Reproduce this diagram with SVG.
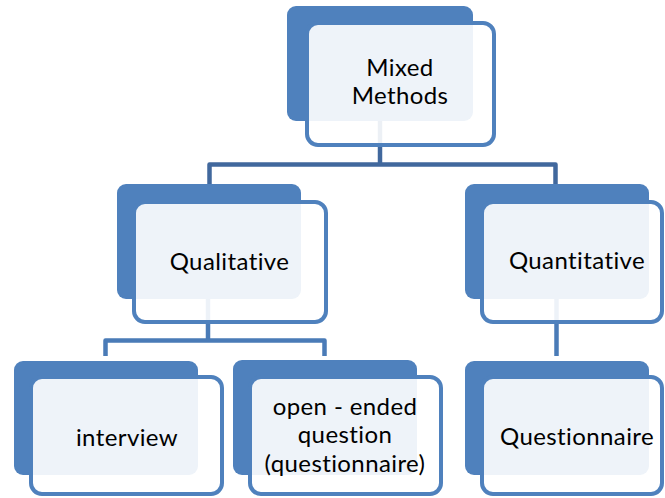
<svg xmlns="http://www.w3.org/2000/svg" width="665" height="498" viewBox="0 0 665 498">
  <style>
    .back { fill: #4F81BD; }
    .front { fill: #FFFFFF; fill-opacity: 0.9; stroke: #4F81BD; stroke-width: 4; }
    .lbl { font-family: Lato, "Open Sans", "Liberation Sans", sans-serif; font-size: 24px; letter-spacing: 0.4px; fill: #000000; text-anchor: middle; }
    .c1 { fill: none; stroke: #41689D; stroke-width: 4.5; stroke-linejoin: round; }
    .c2 { fill: none; stroke: #4A7BB7; stroke-width: 4.5; stroke-linejoin: round; }
  </style>
  <rect width="665" height="498" fill="#FFFFFF"/>

  <!-- connectors (drawn first so the translucent card faces veil them) -->
  <g id="connectors">
    <path class="c1" d="M380,121 V164.5"/>
    <path class="c1" d="M209.5,184 V164.5 H555.5 V184"/>
    <path class="c2" d="M208,299 V340.5"/>
    <path class="c2" d="M105.5,356 V340.5 H324.5 V356"/>
    <path class="c2" d="M556.5,299 V356"/>
  </g>

  <g id="mixed-methods">
    <rect class="back" x="287" y="6" width="186" height="115" rx="9"/>
    <rect class="front" x="307" y="23" width="187" height="122" rx="11"/>
    <text class="lbl" x="400" y="76">Mixed</text>
    <text class="lbl" x="400" y="104">Methods</text>
  </g>

  <g id="qualitative">
    <rect class="back" x="117" y="184" width="184" height="115" rx="9"/>
    <rect class="front" x="134" y="202" width="192" height="120" rx="11"/>
    <text class="lbl" x="229.5" y="270">Qualitative</text>
  </g>

  <g id="quantitative">
    <rect class="back" x="465" y="184" width="184" height="115" rx="9"/>
    <rect class="front" x="482" y="202" width="180" height="120" rx="11"/>
    <text class="lbl" x="577" y="269">Quantitative</text>
  </g>

  <g id="interview">
    <rect class="back" x="14" y="361" width="184" height="114" rx="9"/>
    <rect class="front" x="31" y="377" width="191" height="117" rx="11"/>
    <text class="lbl" x="127" y="446">interview</text>
  </g>

  <g id="open-ended">
    <rect class="back" x="233" y="360" width="184" height="115" rx="9"/>
    <rect class="front" x="250" y="377" width="191" height="117" rx="11"/>
    <text class="lbl" x="345" y="415">open - ended</text>
    <text class="lbl" x="345" y="443">question</text>
    <text class="lbl" x="345" y="472">(questionnaire)</text>
  </g>

  <g id="questionnaire">
    <rect class="back" x="465" y="361" width="184" height="114" rx="9"/>
    <rect class="front" x="482" y="377" width="180" height="117" rx="11"/>
    <text class="lbl" x="577" y="445">Questionnaire</text>
  </g>
</svg>
